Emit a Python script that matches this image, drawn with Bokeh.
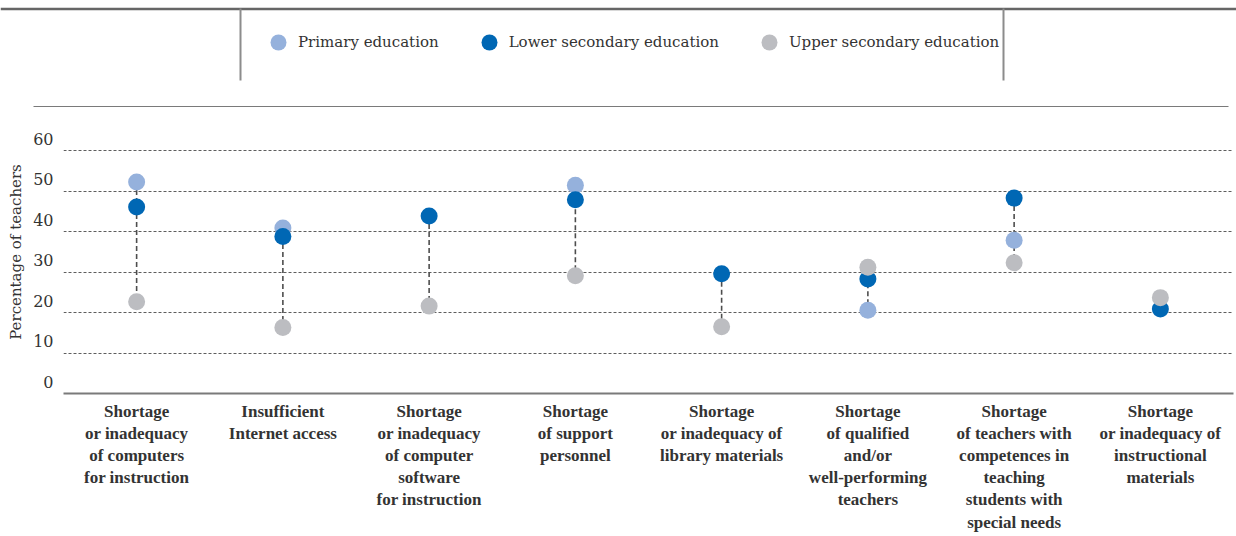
import math
from bokeh.plotting import figure
from bokeh.layouts import column
from bokeh.models import (FactorRange, Range1d, FixedTicker, Legend, LegendItem,
                          Span, BoxAnnotation, ColumnDataSource)
from bokeh.embed import file_html
from bokeh.resources import INLINE

nan = float("nan")

categories = [
    "Shortage\nor inadequacy\nof computers\nfor instruction",
    "Insufficient\nInternet access",
    "Shortage\nor inadequacy\nof computer\nsoftware\nfor instruction",
    "Shortage\nof support\npersonnel",
    "Shortage\nor inadequacy of\nlibrary materials",
    "Shortage\nof qualified\nand/or\nwell-performing\nteachers",
    "Shortage\nof teachers with\ncompetences in\nteaching\nstudents with\nspecial needs",
    "Shortage\nor inadequacy of\ninstructional\nmaterials",
]
primary = [52.3, 40.9, nan, 51.5, nan, 20.6, 37.9, nan]
lower = [46.1, 38.8, 43.9, 47.9, 29.6, 28.3, 48.3, 20.9]
upper = [22.7, 16.3, 21.6, 29.1, 16.5, 31.2, 32.3, 23.7]
series_names = ["Primary education", "Lower secondary education", "Upper secondary education"]
series_colors = ["#95b1dc", "#0067b4", "#bcbdc1"]
y_ticks = [0, 10, 20, 30, 40, 50, 60]
y_title = "Percentage of teachers"

def _valid(vals):
    return [v for v in vals if not math.isnan(v)]

seg_top = [max(_valid([a, b, c])) for a, b, c in zip(primary, lower, upper)]
seg_bot = [min(_valid([a, b, c])) for a, b, c in zip(primary, lower, upper)]

src = ColumnDataSource(dict(cat=categories, primary=primary, lower=lower, upper=upper,
                            top=seg_top, bot=seg_bot))

# ---------------- header (legend panel) ----------------
head = figure(width=1236, height=107, x_range=Range1d(0, 1236), y_range=Range1d(0, 107),
              output_backend="svg", toolbar_location=None,
              x_axis_location=None, y_axis_location=None,
              min_border_left=0, min_border_right=0, min_border_top=0, min_border_bottom=0)
head.outline_line_color = None
head.grid.visible = False
head.add_layout(Span(location=98.5, dimension="width", line_color="#666666", line_width=2.5))
head.add_layout(BoxAnnotation(left=239, right=241, bottom=27, top=99,
                              fill_color="#8c8c8c", fill_alpha=1, line_color=None))
head.add_layout(BoxAnnotation(left=1002, right=1004, bottom=27, top=99,
                              fill_color="#8c8c8c", fill_alpha=1, line_color=None))
head.add_layout(BoxAnnotation(left=33, right=1228, bottom=0, top=1.5,
                              fill_color="#7a7a7a", fill_alpha=1, line_color=None))

# legend proxies (a single NaN row: nothing is drawn in the plot area)
proxies = [head.scatter(x=[nan], y=[nan], size=17, fill_color=c, line_color=None)
           for c in series_colors]
legend = Legend(items=[LegendItem(label=n, renderers=[r]) for n, r in zip(series_names, proxies)],
                orientation="horizontal", location=(258, 45),
                glyph_width=40, glyph_height=40, label_standoff=0, spacing=30,
                padding=0, margin=0, border_line_color=None, background_fill_alpha=0,
                label_text_font="DejaVu Serif", label_text_font_size="15px",
                label_text_color="#333333", label_text_baseline="middle")
head.add_layout(legend)

# ---------------- main chart ----------------
p = figure(width=1236, height=429,
           x_range=FactorRange(factors=categories, range_padding=0),
           y_range=Range1d(0, 69.96),
           output_backend="svg", toolbar_location=None,
           min_border_left=63, min_border_right=3, min_border_top=3, min_border_bottom=143)
p.outline_line_color = None

p.yaxis.ticker = FixedTicker(ticks=y_ticks)
p.yaxis.major_label_overrides = {t: f"{t}\n" for t in y_ticks}
p.yaxis.axis_line_color = None
p.yaxis.major_tick_line_color = None
p.yaxis.major_tick_out = 0
p.yaxis.major_tick_in = 0
p.yaxis.minor_tick_line_color = None
p.yaxis.major_label_standoff = 10
p.yaxis.major_label_text_font = "DejaVu Serif"
p.yaxis.major_label_text_font_size = "16px"
p.yaxis.major_label_text_color = "#333333"
p.yaxis.axis_label = y_title
p.yaxis.axis_label_text_font = "DejaVu Serif"
p.yaxis.axis_label_text_font_style = "normal"
p.yaxis.axis_label_text_font_size = "15px"
p.yaxis.axis_label_text_color = "#333333"
p.yaxis.axis_label_standoff = 5

p.xaxis.axis_line_color = "#7a7a7a"
p.xaxis.axis_line_width = 2
p.xaxis.major_tick_line_color = None
p.xaxis.major_tick_out = 0
p.xaxis.major_tick_in = 0
p.xaxis.minor_tick_line_color = None
p.xaxis.major_label_standoff = 8
p.xaxis.major_label_text_font = "Liberation Serif"
p.xaxis.major_label_text_font_style = "bold"
p.xaxis.major_label_text_font_size = "17px"
p.xaxis.major_label_text_color = "#333333"
p.xaxis.major_label_text_line_height = 1.17

p.xgrid.visible = False
p.ygrid.ticker = FixedTicker(ticks=y_ticks[1:])
p.ygrid.grid_line_color = "#5e5e5e"
p.ygrid.grid_line_width = 1
p.ygrid.grid_line_dash = "3 2"

p.segment(x0="cat", y0="top", x1="cat", y1="bot", source=src,
          line_color="#4d4d4d", line_width=1.6, line_dash="5 3")

for col, color in zip(["primary", "lower", "upper"], series_colors):
    p.scatter(x="cat", y=col, source=src, size=17, fill_color=color, line_color=None)

layout = column(column(head), column(p))
open("out.html", "w").write(file_html(layout, INLINE))
